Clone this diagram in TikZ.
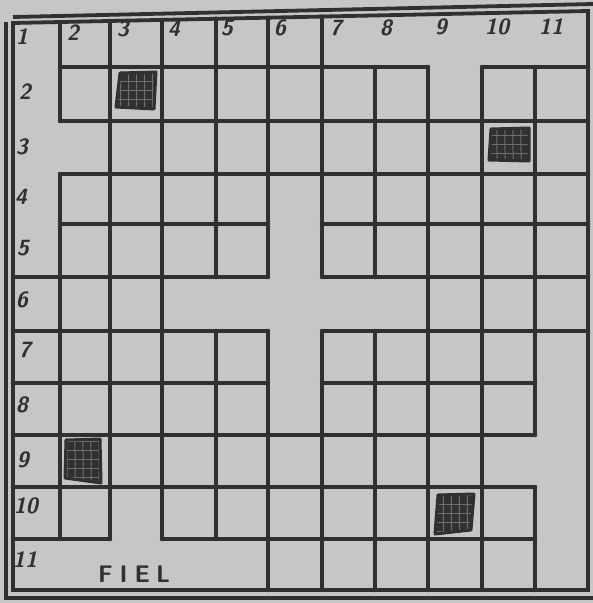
\documentclass[tikz,border=0pt]{standalone}
\usepackage{fontspec}
\definecolor{paper}{RGB}{198,198,198}
\definecolor{ink}{RGB}{48,48,48}
\definecolor{hatchc}{RGB}{110,110,110}
\begin{document}
\begin{tikzpicture}[x=1pt,y=-1pt,
  wall/.style={draw=ink,line width=4.5pt,line cap=round},
  frame/.style={draw=ink,line width=3.8pt},
  lab/.style={font=\fontsize{22}{22}\selectfont\sffamily\bfseries\slshape,text=ink,inner sep=0pt},
  blk/.style={fill=ink},
  hatch/.style={draw=hatchc,line width=1pt}]
\useasboundingbox (0,0) rectangle (593,603);
\fill[paper] (0,0) rectangle (593,603);
% grid points
\foreach \xx [count=\i from 0] in {13,60,110,162,216,268,322,375,428,482,535,588} {
  \foreach \yy [count=\j from 1] in {67,121,174,224,277,331,383,435,487,539,590} {
    \coordinate (p-\i-\j) at (\xx,\yy);
  }
  \coordinate (p-\i-0) at (\xx,{23-12*(\xx-13)/575});
}
% frame
\draw[frame] (p-0-0) -- (p-11-0) -- (p-11-11) -- (p-0-11) -- cycle;
\coordinate (o1) at (6,22);
\coordinate (o2) at (6,598);
\coordinate (o3) at (593,598);
\coordinate (o4) at (13,17);
\coordinate (o5) at (593,4);
\draw[frame] (o1) -- (o2) -- (o3);
\draw[frame] (o4) -- (o5);
% vertical walls
\draw[wall] (p-1-0) -- (p-1-2);  \draw[wall] (p-1-3) -- (p-1-10);
\draw[wall] (p-2-0) -- (p-2-10);
\draw[wall] (p-3-0) -- (p-3-10);
\draw[wall] (p-4-0) -- (p-4-5);  \draw[wall] (p-4-6) -- (p-4-10);
\draw[wall] (p-5-0) -- (p-5-5);  \draw[wall] (p-5-6) -- (p-5-11);
\draw[wall] (p-6-0) -- (p-6-5);  \draw[wall] (p-6-6) -- (p-6-11);
\draw[wall] (p-7-1) -- (p-7-5);  \draw[wall] (p-7-6) -- (p-7-11);
\draw[wall] (p-8-1) -- (p-8-11);
\draw[wall] (p-9-1) -- (p-9-11);
\draw[wall] (p-10-1) -- (p-10-8); \draw[wall] (p-10-9) -- (p-10-11);
% horizontal walls
\draw[wall] (p-1-1) -- (p-8-1);  \draw[wall] (p-9-1) -- (p-11-1);
\draw[wall] (p-1-2) -- (p-11-2);
\draw[wall] (p-1-3) -- (p-11-3);
\draw[wall] (p-1-4) -- (p-5-4);  \draw[wall] (p-6-4) -- (p-11-4);
\draw[wall] (p-0-5) -- (p-5-5);  \draw[wall] (p-6-5) -- (p-11-5);
\draw[wall] (p-0-6) -- (p-5-6);  \draw[wall] (p-6-6) -- (p-11-6);
\draw[wall] (p-0-7) -- (p-5-7);  \draw[wall] (p-6-7) -- (p-10-7);
\draw[wall] (p-0-8) -- (p-10-8);
\draw[wall] (p-0-9) -- (p-10-9);
\draw[wall] (p-0-10) -- (p-2-10); \draw[wall] (p-3-10) -- (p-10-10);
% blocks
\newcommand\hblock[1]{%
  \fill[blk] #1;
  \begin{scope}
    \clip #1;
    \foreach \k in {0,8,...,600} {
      \draw[hatch] (\k,0) -- (\k+4,603);
    }
    \foreach \k in {0,9,...,603} {
      \draw[hatch] (0,\k) -- (593,\k);
    }
  \end{scope}
  \draw[ink,line width=3pt,line join=round] #1;}
\hblock{(120,73) -- (156,72) -- (154,109) -- (116,107) -- cycle}
\hblock{(491,129) -- (529,128) -- (529,161) -- (489,160) -- cycle}
\hblock{(66,440) -- (100,439) -- (101,483) -- (65,478) -- cycle}
\hblock{(438,495) -- (474,494) -- (471,530) -- (435,534) -- cycle}
% column labels
\node[lab] (c2) at (73,33) {2};
\node[lab] (c3) at (123,29) {3};
\node[lab] (c4) at (174,29) {4};
\node[lab] (c5) at (227,28) {5};
\node[lab] (c6) at (280,28) {6};
\node[lab] (c7) at (336,28) {7};
\node[lab] (c8) at (386,28) {8};
\node[lab] (c9) at (441,27) {9};
\node[lab] (c10) at (497,27) {10};
\node[lab] (c11) at (551,27) {11};
% row labels
\node[lab] (r1) at (22,37) {1};
\node[lab] (r2) at (25,92) {2};
\node[lab] (r3) at (22,147) {3};
\node[lab] (r4) at (21,197) {4};
\node[lab] (r5) at (23,248) {5};
\node[lab] (r6) at (22,300) {6};
\node[lab] (r7) at (25,350) {7};
\node[lab] (r8) at (22,405) {8};
\node[lab] (r9) at (23,460) {9};
\node[lab] (r10) at (26,506) {10};
\node[lab] (r11) at (25,560) {11};
\node[lab,font=\fontsize{24}{24}\selectfont\sffamily\bfseries] (fiel) at (134,574) {F\kern7ptI\kern7ptE\kern6ptL};
\end{tikzpicture}
\end{document}
